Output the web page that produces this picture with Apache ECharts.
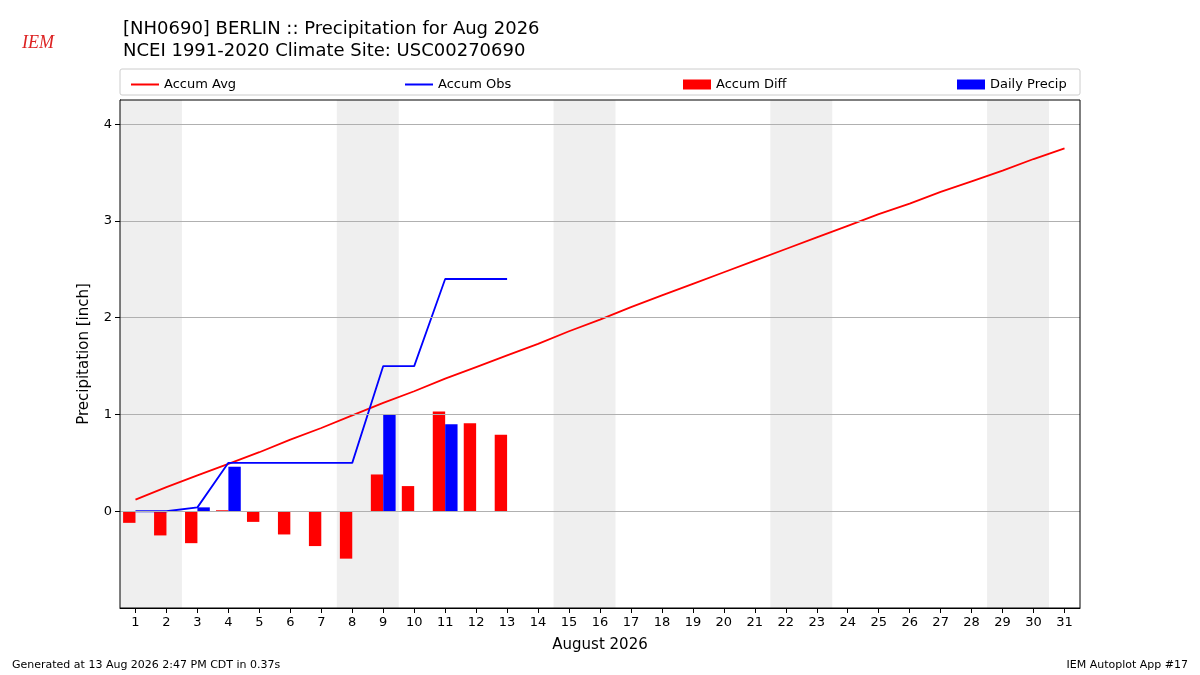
<!DOCTYPE html>
<html><head><meta charset="utf-8">
<script src="https://cdn.jsdelivr.net/npm/echarts@6/dist/echarts.min.js"></script>
<style>html,body{margin:0;padding:0;background:#fff}#c{width:1200px;height:675px}</style>
</head><body><div id="c"></div>
<script>
const days = Array.from({length:31},(_,i)=>i+1);
const accumAvg = [0.12,0.25,0.37,0.49,0.61,0.74,0.86,0.99,1.12,1.24,1.37,1.49,1.61,1.73,1.86,1.98,2.11,2.23,2.35,2.47,2.59,2.71,2.83,2.95,3.07,3.18,3.30,3.41,3.52,3.64,3.75];
const accumObs = [0,0,0.04,0.50,0.50,0.50,0.50,0.50,1.50,1.50,2.40,2.40,2.40];
const dailyPrecip = [0,0,0.04,0.46,0,0,0,0,1.00,0,0.90,0,0];
const accumDiff = [-0.12,-0.25,-0.33,0.01,-0.11,-0.24,-0.36,-0.49,0.38,0.26,1.03,0.91,0.79];
const weekends = [[0.5,2.5],[7.5,9.5],[14.5,16.5],[21.5,23.5],[28.5,30.5]];
const yTicks = [0,1,2,3,4];
const F = 'DejaVu Sans';

function barSeries(name, color, vals, offset){
  return {name, type:'custom', coordinateSystem:'cartesian2d',
    data: vals.map((v,i)=>[i+1+offset, v]),
    renderItem:(params, api)=>{
      const x = api.value(0), v = api.value(1);
      const p0 = api.coord([x-0.2, 0]), p1 = api.coord([x+0.2, v]);
      return {type:'rect', shape:{x:p0[0], y:Math.min(p0[1],p1[1]), width:p1[0]-p0[0], height:Math.abs(p1[1]-p0[1])}, style:{fill:color}};
    }, z:3};
}
const chart = echarts.init(document.getElementById('c'));
const legendBase = {top:73, itemWidth:28, itemHeight:10, textStyle:{fontFamily:F, fontSize:13, color:'#000'}, selectedMode:false};
chart.setOption({
  animation:false,
  title:[{text:'[NH0690] BERLIN :: Precipitation for Aug 2026\nNCEI 1991-2020 Climate Site: USC00270690', left:118, top:13,
    textStyle:{fontFamily:F, fontSize:18, fontWeight:'normal', color:'#000', lineHeight:22}}],
  legend:[
    Object.assign({left:126, data:[{name:'Accum Avg', icon:'path://M0,4L28,4L28,6L0,6Z'}]}, legendBase),
    Object.assign({left:400, data:[{name:'Accum Obs', icon:'path://M0,4L28,4L28,6L0,6Z'}]}, legendBase),
    Object.assign({left:678, data:[{name:'Accum Diff', icon:'rect', itemStyle:{color:'red'}}]}, legendBase),
    Object.assign({left:952, data:[{name:'Daily Precip', icon:'rect', itemStyle:{color:'blue'}}]}, legendBase)
  ],
  graphic:[
    {type:'rect', shape:{x:120,y:69,width:960,height:26,r:2}, style:{fill:'none', stroke:'#ccc', lineWidth:1}},
    {type:'rect', shape:{x:120,y:100,width:960,height:508}, style:{fill:'none', stroke:'#000', lineWidth:1}, z:10},
    {type:'text', left:22, top:34, style:{text:'IEM', fill:'#d22', font:'italic 18px "Liberation Serif"'}},
    {type:'text', left:12, top:660, style:{text:'Generated at 13 Aug 2026 2:47 PM CDT in 0.37s', fill:'#000', font:'11px "DejaVu Sans"'}},
    {type:'text', right:12, top:660, style:{text:'IEM Autoplot App #17', fill:'#000', font:'11px "DejaVu Sans"'}}
  ],
  grid:{left:120, right:120, top:100, bottom:67},
  xAxis:{type:'value', min:0.5, max:31.5, interval:1,
    name:'August 2026', nameLocation:'middle', nameGap:30, nameTextStyle:{fontFamily:F, fontSize:15, color:'#000'},
    axisLine:{onZero:false, lineStyle:{color:'#000'}}, axisTick:{lineStyle:{color:'#000'}, customValues:days}, splitLine:{show:false},
    axisLabel:{fontFamily:F, fontSize:13, color:'#000', customValues:days}},
  yAxis:{type:'value', min:-1, max:4.25,
    name:'Precipitation [inch]', nameLocation:'middle', nameGap:28, nameTextStyle:{fontFamily:F, fontSize:15, color:'#000'},
    axisLine:{show:true, onZero:false, lineStyle:{color:'#000'}}, axisTick:{show:true, lineStyle:{color:'#000'}, customValues:yTicks},
    axisLabel:{fontFamily:F, fontSize:13, color:'#000', customValues:yTicks},
    splitLine:{show:false}},
  series:[
    {name:'grid', type:'line', data:[], markLine:{silent:true, symbol:'none', label:{show:false}, lineStyle:{color:'#b0b0b0', type:'solid', width:1}, data:yTicks.map(v=>({yAxis:v}))},
     markArea:{silent:true, itemStyle:{color:'#efefef'}, data:weekends.map(w=>[{xAxis:w[0]},{xAxis:w[1]}])}, z:1},
    barSeries('Accum Diff','red',accumDiff,-0.2),
    barSeries('Daily Precip','blue',dailyPrecip,0.2),
    {name:'Accum Avg', type:'line', data:accumAvg.map((v,i)=>[i+1,v]), symbol:'none', lineStyle:{color:'red', width:1.8}, itemStyle:{color:'red'}, z:4},
    {name:'Accum Obs', type:'line', data:accumObs.map((v,i)=>[i+1,v]), symbol:'none', lineStyle:{color:'blue', width:1.8}, itemStyle:{color:'blue'}, z:4}
  ]
});
</script></body></html>
